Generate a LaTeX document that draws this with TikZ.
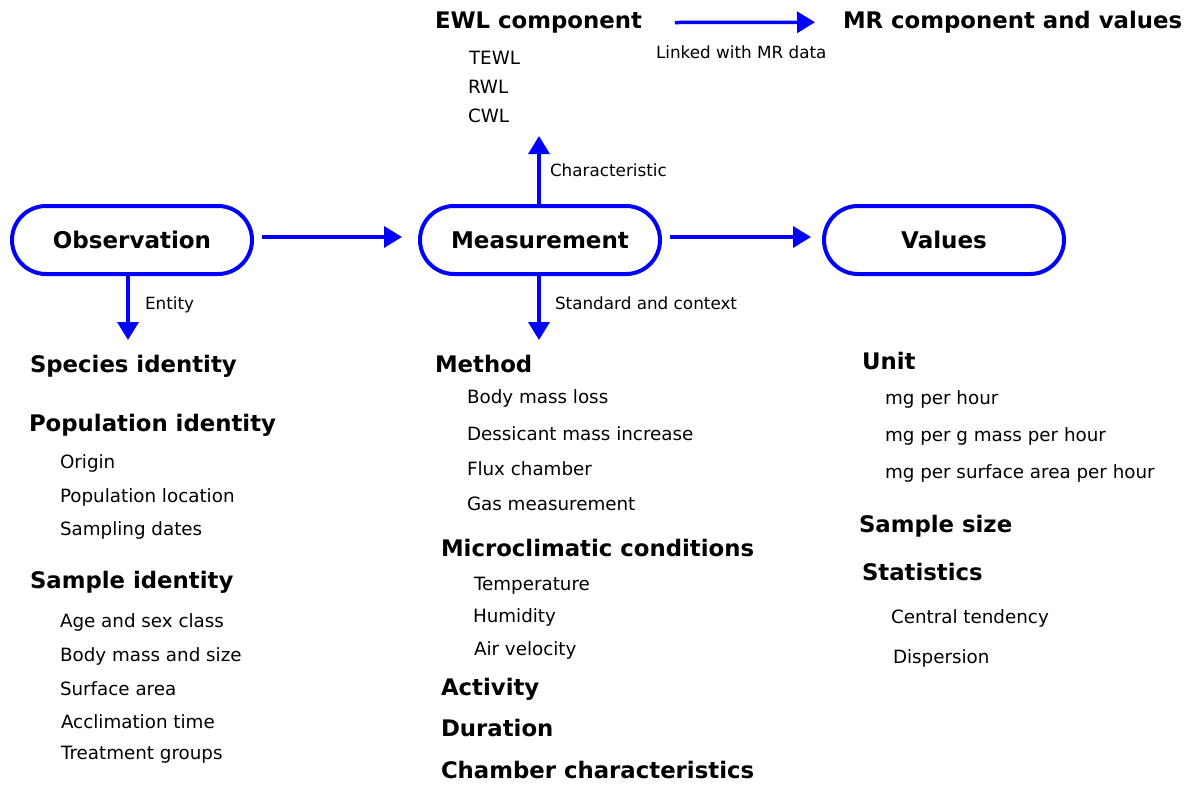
\documentclass[tikz,border=0pt]{standalone}
\usepackage{fontspec}
\setmainfont{DejaVu Sans}
\usetikzlibrary{arrows.meta}

\begin{document}
\begin{tikzpicture}[x=1pt,y=-1pt]
\tikzstyle{every node}=[inner sep=0pt,outer sep=0pt]
\tikzstyle{head}=[anchor=base west,font=\fontsize{22.8}{27}\selectfont\bfseries]
\tikzstyle{item}=[anchor=base west,font=\fontsize{18.3}{22}\selectfont]
\tikzstyle{lbl}=[anchor=base west,font=\fontsize{16.8}{20}\selectfont]
\tikzstyle{pill}=[draw=blue,line width=4pt,rounded corners=34pt,minimum width=240pt,minimum height=68pt,font=\fontsize{23}{27}\selectfont\bfseries]
\tikzstyle{flow}=[draw=blue,line width=3.5pt,-{Triangle[length=18pt,width=21pt]}]
\useasboundingbox (0,0) rectangle (1194,788);
\node[pill] (obs) at (132,240) {Observation};
\node[pill] (meas) at (540,240) {Measurement};
\node[pill] (val) at (944,240) {Values};
\draw[flow,shorten <=10pt,shorten >=18pt] ([yshift=3pt]obs.east) -- ([yshift=3pt]meas.west);
\draw[flow,shorten <=10pt,shorten >=13pt] ([yshift=3pt]meas.east) -- ([yshift=3pt]val.west);
\coordinate (ent) at (128,340);
\coordinate (std) at (539,340);
\coordinate (chr) at (539,136);
\draw[flow] (obs.south -| ent) -- (ent);
\draw[flow] (meas.south -| std) -- (std);
\draw[flow] (meas.north -| chr) -- (chr);
\node[lbl] (entity) at (145,309) {Entity};
\node[lbl] (stdctx) at (555,309) {Standard and context};
\node[lbl] (charac) at (550,176) {Characteristic};
\node[lbl] (linked) at (656,58) {Linked with MR data};
\node[head] (ewl) at (435,28.5) {EWL component};
\node[head] (mr) at (843,28.5) {MR component and values};
\draw[flow,shorten <=33pt,shorten >=28pt] (ewl.east) -- (mr.west);
\node[item] (tewl) at (469,64) {TEWL};
\node[item] (rwl) at (468,93) {RWL};
\node[item] (cwl) at (468,122) {CWL};
\node[head] (species) at (30,372) {Species identity};
\node[head] (popid) at (29,431) {Population identity};
\node[item] (origin) at (60,468) {Origin};
\node[item] (poploc) at (60,502) {Population location};
\node[item] (sampdate) at (60,535) {Sampling dates};
\node[head] (sampid) at (30,588) {Sample identity};
\node[item] (agesex) at (60,627) {Age and sex class};
\node[item] (bodysize) at (60,661) {Body mass and size};
\node[item] (surface) at (60,695) {Surface area};
\node[item] (acclim) at (61,728) {Acclimation time};
\node[item] (treat) at (61,759) {Treatment groups};
\node[head] (method) at (435,372) {Method};
\node[item] (bml) at (467,403) {Body mass loss};
\node[item] (dmi) at (467,440) {Dessicant mass increase};
\node[item] (flux) at (467,475) {Flux chamber};
\node[item] (gas) at (467,510) {Gas measurement};
\node[head] (micro) at (441,556) {Microclimatic conditions};
\node[item] (temp) at (474,590) {Temperature};
\node[item] (humid) at (473,622) {Humidity};
\node[item] (air) at (474,655) {Air velocity};
\node[head] (activ) at (441,695) {Activity};
\node[head] (durat) at (441,736) {Duration};
\node[head] (chamb) at (441,778) {Chamber characteristics};
\node[head] (unit) at (862,369) {Unit};
\node[item] (mgh) at (885,404) {mg per hour};
\node[item] (mggh) at (885,441) {mg per g mass per hour};
\node[item] (mgsh) at (885,478) {mg per surface area per hour};
\node[head] (ssize) at (859,532) {Sample size};
\node[head] (stats) at (862,580) {Statistics};
\node[item] (central) at (891,623) {Central tendency};
\node[item] (disp) at (893,663) {Dispersion};
\end{tikzpicture}
\end{document}
